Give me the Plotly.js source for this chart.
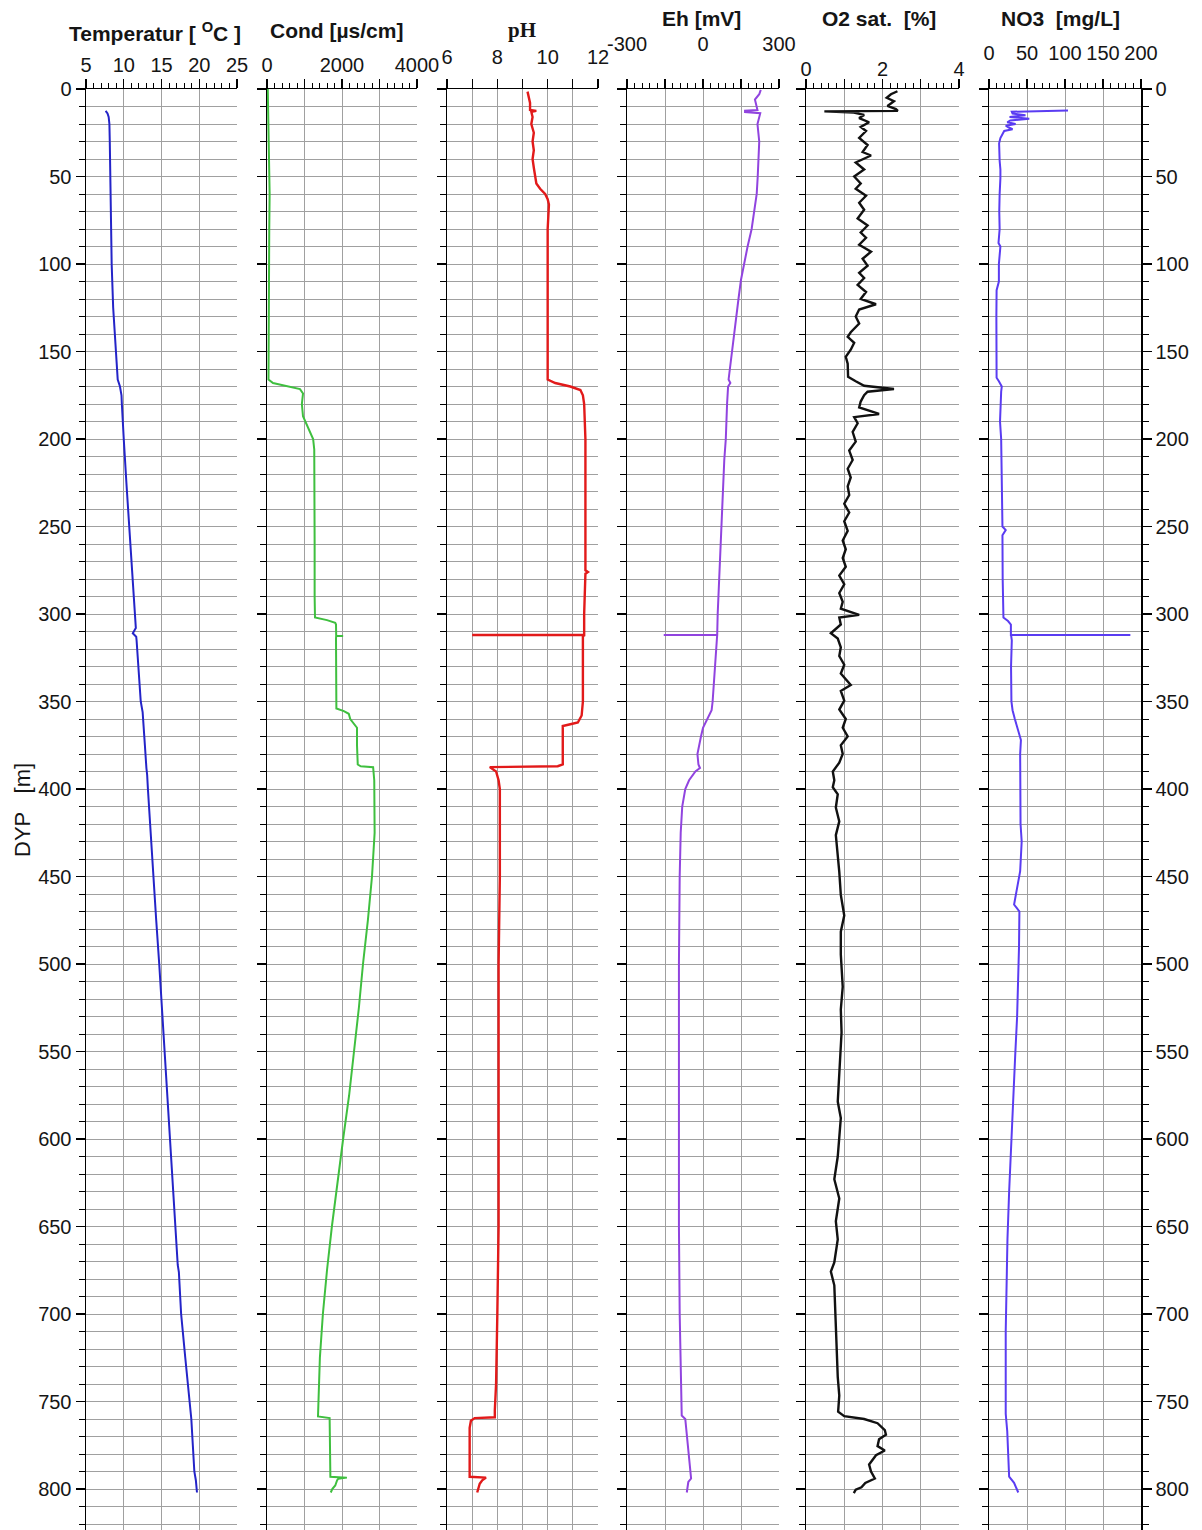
<!DOCTYPE html>
<html><head><meta charset="utf-8">
<script src="https://cdn.plot.ly/plotly-3.0.1.min.js"></script>
<style>html,body{margin:0;padding:0;background:#fff}#chart{width:1202px;height:1530px}</style>
</head><body><div id="chart"></div>
<script>
// ---------- DATA (depth in m) ----------
const tempDepth = [12.5, 14, 16, 20, 30, 50, 75, 100, 125, 150,
 160, 166, 170, 175, 180, 190, 200, 225, 250, 275,
 300, 308, 311, 313, 315, 330, 350, 356, 360, 375,
 388, 392, 400, 425, 450, 475, 500, 550, 600, 650,
 672, 676, 700, 725, 750, 760, 775, 790, 795, 802];
const tempVal = [7.6, 7.85, 8.0, 8.1, 8.15, 8.2, 8.3, 8.4, 8.6, 9.0,
 9.1, 9.2, 9.5, 9.7, 9.75, 9.85, 10.0, 10.35, 10.7, 11.05,
 11.45, 11.6, 11.2, 11.65, 11.7, 11.95, 12.25, 12.5, 12.55, 12.8,
 13.0, 13.1, 13.2, 13.55, 13.9, 14.3, 14.7, 15.4, 16.1, 16.85,
 17.15, 17.3, 17.6, 18.15, 18.7, 18.95, 19.15, 19.35, 19.55, 19.7];

const condDepth = [0, 10, 20, 40, 60, 80, 100, 130, 150, 166,
 168, 170, 171.5, 174, 180, 187, 193, 200, 206, 230,
 260, 290, 302, 303.5, 305, 306, 310, 312.5, 312.5, 312.5,
 314, 330, 354, 355.5, 357, 360, 363, 365, 375, 386,
 387, 387.5, 395, 400, 425, 450, 475, 500, 525, 550,
 575, 600, 625, 650, 675, 700, 725, 740, 758.5, 759.5,
 775, 793, 793.5, 794.2, 795, 798, 800, 802];
const condVal = [20, 30, 45, 60, 70, 60, 55, 50, 40, 40,
 160, 610, 880, 960, 930, 960, 1080, 1230, 1260, 1270,
 1270, 1270, 1280, 1600, 1820, 1840, 1840, 1845, 2030, 1845,
 1840, 1850, 1850, 2050, 2180, 2220, 2330, 2400, 2400, 2420,
 2500, 2830, 2860, 2860, 2870, 2800, 2690, 2560, 2450, 2320,
 2190, 2030, 1870, 1730, 1600, 1490, 1410, 1380, 1360, 1670,
 1680, 1690, 2130, 1900, 1870, 1820, 1740, 1700];

const phDepth = [1.5, 5, 8, 11, 12, 12.5, 13, 16, 20, 25,
 30, 35, 40, 45, 50, 54, 57, 60, 63, 66,
 80, 100, 120, 140, 160, 166, 168, 170, 172, 175,
 180, 200, 225, 250, 275, 276, 277, 300, 311, 312,
 312, 312, 313, 330, 350, 358, 362, 363, 364, 366,
 375, 386, 387, 387.5, 390, 395, 400, 450, 500, 550,
 600, 650, 700, 740, 755, 759, 759.5, 761, 765, 780,
 793, 793.5, 795, 797, 800, 802];
const phVal = [9.2, 9.25, 9.3, 9.3, 9.3, 9.55, 9.35, 9.4, 9.35, 9.45,
 9.4, 9.45, 9.4, 9.45, 9.5, 9.55, 9.7, 9.9, 10.0, 10.05,
 10.0, 10.0, 10.0, 10.0, 10.0, 10.0, 10.3, 10.9, 11.3, 11.4,
 11.45, 11.5, 11.5, 11.5, 11.5, 11.6, 11.5, 11.45, 11.45, 11.45,
 7.0, 11.45, 11.4, 11.4, 11.4, 11.35, 11.2, 10.9, 10.6, 10.6,
 10.6, 10.6, 10.4, 7.7, 7.95, 8.05, 8.1, 8.1, 8.05, 8.05,
 8.05, 8.05, 8.0, 7.95, 7.9, 7.9, 7.1, 6.95, 6.9, 6.9,
 6.9, 7.55, 7.4, 7.3, 7.25, 7.2];

const ehDepth = [0.5, 3, 6, 10, 12, 12.4, 13.2, 13.8, 20, 30,
 40, 50, 60, 70, 80, 90, 100, 109, 120, 140,
 160, 166, 168, 170, 180, 200, 212, 225, 250, 275,
 300, 312, 312, 312, 314, 330, 350, 355, 360, 365,
 370, 380, 386, 388, 390, 395, 400, 410, 425, 450,
 500, 550, 600, 650, 700, 750, 758, 760, 775, 790,
 794, 796, 800, 802];
const ehVal = [228, 222, 205, 210, 215, 166, 166, 226, 215, 222,
 220, 216, 212, 203, 192, 176, 162, 150, 140, 122,
 106, 101, 108, 99, 95, 90, 84, 80, 72, 65,
 58, 56, -155, 56, 55, 48, 38, 34, 18, 0,
 -8, -22, -18, -12, -30, -55, -70, -82, -88, -92,
 -95, -96, -96, -95, -92, -86, -84, -70, -60, -52,
 -47, -58, -62, -64];

const o2Depth = [1.3, 3, 5, 7, 9.7, 11.5, 12.5, 12.8, 13.5, 14.8,
 16.6, 19, 21.7, 24, 28, 32, 36, 38, 42, 46,
 50, 54, 57, 61, 65, 69, 74, 78, 82, 85,
 89, 93, 97, 101, 105, 108, 112, 116, 120, 123,
 126, 130, 134, 139, 141.6, 145, 149, 153, 157, 161,
 164.5, 167, 169.6, 171.4, 173, 175, 178.6, 182, 185.7, 187.5,
 191, 196, 201.5, 206.6, 212, 217, 222, 227, 232, 237,
 242, 247, 252.5, 258, 263, 268, 273, 278, 283, 288,
 293, 297, 300.5, 302, 306, 311, 314, 319, 324, 329,
 334, 340.6, 344, 349.5, 354.6, 360, 365, 370, 375, 380,
 385, 390, 395, 399, 403, 410.6, 418.5, 426.4, 437, 447.4,
 460.5, 472.3, 481.5, 494.6, 513, 526, 539, 552.4, 565.5, 578.6,
 588, 597, 610, 623, 634, 647, 657.4, 670.5, 675.7, 683.6,
 696.7, 710, 723, 736, 746.6, 755.8, 758.4, 760, 762.4, 766.3,
 769, 771.5, 775.5, 778, 780.7, 786, 790, 794, 796.5, 799,
 800.4, 802.3];
const o2Val = [2.39, 2.22, 2.11, 2.30, 2.13, 2.35, 2.40, 0.48, 1.25, 1.52,
 1.39, 1.65, 1.43, 1.57, 1.39, 1.61, 1.48, 1.70, 1.30, 1.52,
 1.26, 1.43, 1.30, 1.57, 1.39, 1.52, 1.35, 1.61, 1.43, 1.57,
 1.39, 1.70, 1.48, 1.61, 1.39, 1.52, 1.35, 1.57, 1.43, 1.83,
 1.39, 1.30, 1.39, 1.17, 1.09, 1.26, 1.17, 1.04, 1.09, 1.09,
 1.10, 1.30, 1.52, 2.30, 1.61, 1.52, 1.43, 1.39, 1.91, 1.26,
 1.35, 1.22, 1.30, 1.13, 1.22, 1.09, 1.17, 1.09, 1.13, 1.00,
 1.13, 1.00, 1.09, 0.96, 1.04, 0.96, 1.04, 0.87, 1.00, 0.87,
 0.96, 0.91, 1.39, 0.87, 0.91, 0.65, 0.83, 0.91, 0.87, 1.00,
 0.91, 1.17, 0.91, 1.00, 0.87, 1.04, 0.96, 1.09, 0.91, 0.96,
 0.87, 0.70, 0.74, 0.70, 0.83, 0.78, 0.87, 0.78, 0.83, 0.87,
 0.91, 1.00, 0.91, 0.91, 0.96, 0.91, 0.93, 0.90, 0.87, 0.83,
 0.91, 0.87, 0.83, 0.74, 0.87, 0.78, 0.83, 0.74, 0.65, 0.74,
 0.76, 0.78, 0.81, 0.83, 0.87, 0.84, 1.00, 1.52, 1.87, 2.06,
 2.09, 1.91, 1.87, 2.06, 1.83, 1.65, 1.70, 1.80, 1.55, 1.45,
 1.30, 1.25];

const no3Depth = [12.3, 12.6, 13, 14, 15, 16, 17, 18, 19, 20,
 21, 22, 23, 24, 25.5, 28, 31, 36, 41, 46,
 51, 60, 70, 80, 88, 90, 100, 110, 115, 130,
 150, 165, 167, 170, 173, 180, 190, 200, 220, 240,
 250, 252, 255, 280, 300, 302, 304, 306, 312, 312,
 312, 315, 330, 350, 355, 360, 365, 372, 380, 400,
 420, 430, 447, 466, 470, 490, 500, 530, 552, 575,
 605, 630, 657, 680, 710, 740, 757, 767, 789, 793,
 796.5, 800, 802];
const no3Val = [104, 35, 30, 31, 48, 27, 53, 28, 24, 35,
 22, 26, 31, 20, 17.7, 15, 13.3, 13.3, 14, 15,
 15, 14, 13.5, 14, 12.5, 15, 13, 13, 10, 9.7,
 9.7, 10, 13, 16.8, 16, 15, 14.5, 16, 17, 17.7,
 17.7, 22, 17.7, 18, 18.5, 19, 25, 28.8, 28.8, 186,
 29, 30, 29, 29.5, 31, 34, 37, 42, 41, 41,
 41.5, 43, 41, 33, 40, 39.5, 39, 37, 34.5, 32,
 28.8, 26.5, 24.3, 23, 22, 22, 22, 24, 25.7, 26.5,
 33, 36, 38.5];

const panelTitles = ['<b>Temperatur [ <sup>O</sup>C ]</b>', '<b>Cond [µs/cm]</b>', '<b>pH</b>',
  '<b>Eh [mV]</b>', '<b>O2 sat.\u00a0\u00a0[%]</b>', '<b>NO3\u00a0\u00a0[mg/L]</b>'];
// major tick / grid positions and their labels ('' = tick without label)
const tempTicks = [5, 10, 15, 20, 25], tempText = ['5', '10', '15', '20', '25'];
const condTicks = [0, 1000, 2000, 3000, 4000], condText = ['0', '', '2000', '', '4000'];
const phTicks = [6, 7, 8, 9, 10, 11, 12], phText = ['6', '', '8', '', '10', '', '12'];
const ehTicks = [-300, -150, 0, 150, 300], ehText = ['-300', '', '0', '', '300'];
const o2Ticks = [0, 1, 2, 3, 4], o2Text = ['0', '', '2', '', '4'];
const no3Ticks = [0, 50, 100, 150, 200], no3Text = ['0', '50', '100', '150', '200'];
const depthTitle = 'DYP\u00a0\u00a0\u00a0[m]';

// ---------- LAYOUT ----------
const W = 1202, H = 1530, TOP = 89;
const PH = H - TOP;
const yMax = PH / 1.75;
const py = v => (H - v) / PH;
const FONT = 'Liberation Sans, Arial, Helvetica, sans-serif';
const GRID = '#a0a0a0';
const TXT = '#151515';

function xa(px0, px1, range, tickvals, ticktext, minorDtick, standoff, anchor) {
  const ax = {
    domain: [px0 / W, px1 / W], range: range, side: 'top', anchor: anchor,
    showline: true, linecolor: '#000', linewidth: 1.5,
    ticks: 'outside', ticklen: 9, tickwidth: 1.3, tickcolor: '#000',
    tickmode: 'array', tickvals: tickvals, ticktext: ticktext,
    tickfont: {family: FONT, size: 20, color: TXT},
    ticklabelstandoff: standoff,
    showgrid: true, gridcolor: GRID, gridwidth: 1, zeroline: false, fixedrange: true
  };
  if (minorDtick) ax.minor = {tickmode: 'linear', dtick: minorDtick, tick0: range[0], ticks: 'outside',
    ticklen: 5, tickwidth: 1, tickcolor: '#000', showgrid: false};
  return ax;
}
function ya(anchor, side, labels, mirror) {
  return {
    domain: [0, 1], range: [yMax, 0], anchor: anchor, side: side,
    showline: true, linecolor: '#000', linewidth: 1.5, mirror: mirror,
    ticks: 'outside', ticklen: 9, tickwidth: 1.3, tickcolor: '#000',
    tickmode: 'linear', tick0: 0, dtick: 50, showticklabels: labels,
    tickfont: {family: FONT, size: 20, color: TXT},
    showgrid: true, gridcolor: GRID, gridwidth: 1, zeroline: false, fixedrange: true,
    minor: {tickmode: 'linear', tick0: 0, dtick: 10, ticks: 'outside', ticklen: 6, tickwidth: 1,
      tickcolor: '#000', showgrid: true, gridcolor: GRID, gridwidth: 1}
  };
}

const layout = {
  width: W, height: H, margin: {l: 0, r: 0, t: TOP, b: 0, pad: 0},
  paper_bgcolor: '#fff', plot_bgcolor: '#fff', showlegend: false,
  font: {family: FONT, size: 20, color: TXT},
  xaxis:  xa(86, 237, [5, 25], tempTicks, tempText, 1, -1, 'y'),
  xaxis2: xa(267, 417, [0, 4000], condTicks, condText, 200, -1, 'y2'),
  xaxis3: xa(447, 598, [6, 12], phTicks, phText, null, 7, 'y3'),
  xaxis4: xa(627, 779, [-300, 300], ehTicks, ehText, 30, 20, 'y4'),
  xaxis5: xa(806, 959, [0, 4], o2Ticks, o2Text, 0.2, -5, 'y5'),
  xaxis6: xa(989, 1141, [0, 200], no3Ticks, no3Text, 10, 11, 'y6'),
  yaxis:  ya('x', 'left', true, false),
  yaxis2: ya('x2', 'left', false, false),
  yaxis3: ya('x3', 'left', false, false),
  yaxis4: ya('x4', 'left', false, false),
  yaxis5: ya('x5', 'left', false, false),
  yaxis6: ya('x6', 'right', true, 'ticks'),
  annotations: []
};
const titlePos = [[155, 32], [337, 30], [522, 30], [701, 18], [879, 18], [1060, 18]];
panelTitles.forEach((t, i) => {
  layout.annotations.push({
    text: t, xref: 'paper', yref: 'paper', x: titlePos[i][0] / W, y: py(titlePos[i][1]),
    xanchor: 'center', yanchor: 'middle', showarrow: false,
    font: i === 2 ? {family: 'Liberation Serif, Times New Roman, serif', size: 21, color: TXT}
                  : {family: FONT, size: 21, color: TXT}
  });
});
layout.annotations.push({
  text: depthTitle, xref: 'paper', yref: 'paper', x: 22 / W, y: py(810),
  xanchor: 'center', yanchor: 'middle', textangle: -90, showarrow: false,
  font: {family: FONT, size: 22, color: TXT}
});

function tr(x, y, xa, ya, color, w) {
  return {x: x, y: y, xaxis: xa, yaxis: ya, type: 'scatter', mode: 'lines',
    line: {color: color, width: w}, hoverinfo: 'skip'};
}
const data = [
  tr(tempVal, tempDepth, 'x', 'y', '#2424c8', 2),
  tr(condVal, condDepth, 'x2', 'y2', '#3fbf3f', 2),
  tr(phVal, phDepth, 'x3', 'y3', '#e21a1a', 2.4),
  tr(ehVal, ehDepth, 'x4', 'y4', '#9144df', 2),
  tr(o2Val, o2Depth, 'x5', 'y5', '#111111', 2.4),
  tr(no3Val, no3Depth, 'x6', 'y6', '#5a3cf2', 2)
];
Plotly.newPlot('chart', data, layout, {staticPlot: true, displayModeBar: false});
</script></body></html>
